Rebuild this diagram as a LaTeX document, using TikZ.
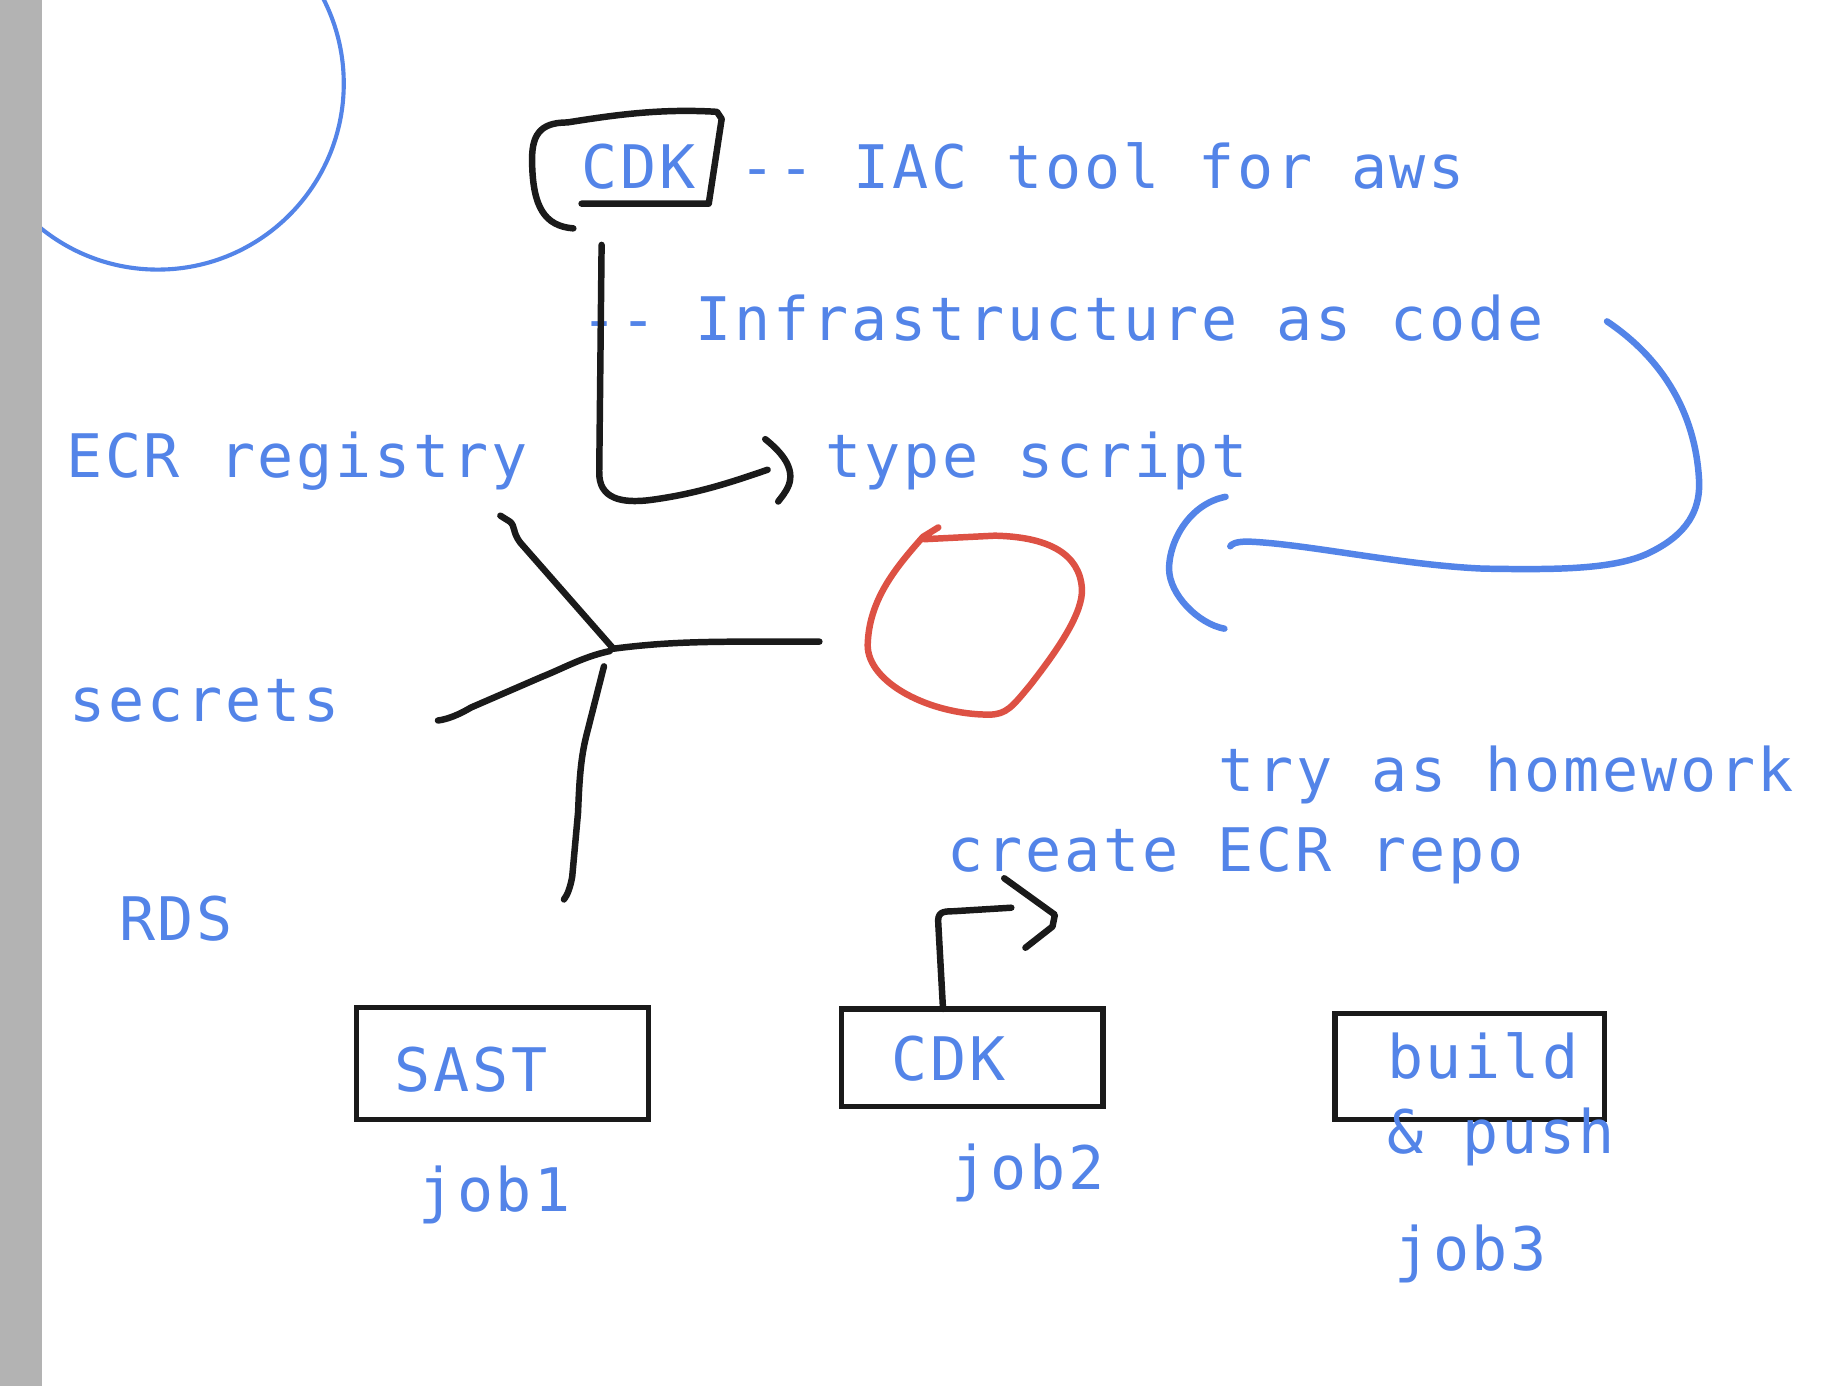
\documentclass[tikz,border=0pt]{standalone}
\usepackage{fontspec}
\newfontfamily\handfont{DejaVu Sans Mono}[LetterSpace=4.6]
\definecolor{inkblue}{HTML}{5384E8}
\definecolor{inkred}{HTML}{DD5144}
\definecolor{inkgray}{HTML}{B3B3B3}
\definecolor{ink}{HTML}{1A1A1A}
\tikzset{
  lbl/.style={font=\handfont\fontsize{51}{60}\selectfont, text=inkblue, inner sep=0pt, anchor=base west},
  pen/.style={draw=ink, line width=5.5pt, line cap=round, line join=round},
  redpen/.style={draw=inkred, line width=5.5pt, line cap=round, line join=round},
  bluepen/.style={draw=inkblue, line width=5.5pt, line cap=round, line join=round},
  jobbox/.style={draw=ink, line width=4.5pt, inner sep=0pt, rectangle}
}
\begin{document}
\begin{tikzpicture}[x=1pt, y=-1pt]
\path[use as bounding box, fill=white] (0,0) rectangle (1568,1177);
% blue circle top-left
\begin{scope}
\clip (0,0) rectangle (1568,1177);
\draw[inkblue, line width=3.5pt] (134,71) circle[radius=158pt];
\end{scope}
\fill[inkgray] (0,0) rectangle (36,1177);

% texts
\node[lbl] (cdktop) at (494,160) {CDK};
\node[lbl] (iac) at (628,160) {-{}- IAC tool for aws};
\node[lbl] (infra) at (494,289) {-{}- Infrastructure as code};
\node[lbl] (ecr) at (56,406) {ECR registry};
\node[lbl] (ts) at (701,406) {type script};
\node[lbl] (secrets) at (59,613) {secrets};
\node[lbl] (rds) at (101,799) {RDS};
\node[lbl] (try) at (1035,672) {try as homework};
\node[lbl] (create) at (805,740) {create ECR repo};

% job boxes
\node[jobbox, minimum width=248pt, minimum height=95pt] (sastbox) at (427,903.5) {};
\node[jobbox, minimum width=222pt, minimum height=83pt] (cdkbox) at (826,898.5) {};
\node[jobbox, minimum width=229pt, minimum height=90pt] (buildbox) at (1248.5,906) {};
\node[lbl] (sast) at (335,927) {SAST};
\node[lbl] (cdkjob) at (757,918) {CDK};
\node[lbl] (build) at (1178,916) {build};
\node[lbl] (push) at (1178,980) {\& push};
\node[lbl] (job1) at (355,1029) {job1};
\node[lbl] (job2) at (808,1010) {job2};
\node[lbl] (job3) at (1184,1079) {job3};

% CDK hand-drawn box
\draw[pen] (487,194) .. controls (462,192) and (453,175) .. (452,140)
  .. controls (451,115) and (458,104) .. (482,104)
  .. controls (520,98) and (560,92) .. (609,95) -- (613,101) -- (602,173) -- (494,173);

% L arrow to type script
\coordinate (lstart) at (511,208);
\coordinate (lend) at (652,399);
\draw[pen] (lstart) -- (509,400) .. controls (508,425) and (530,427) .. (550,425) .. controls (590,420) and (620,410) .. (lend);
\draw[pen] (650,373) .. controls (665,385) and (675,398) .. (670,412) .. controls (667,419) and (664,422) .. (661,426);

% junction
\coordinate (hub) at (521,551);
\draw[pen] (425,438) -- (433,443) .. controls (438,447) and (435,452) .. (442,461) -- (hub);
\draw[pen] (hub) .. controls (560,546) and (590,545) .. (640,545) -- (696,545);
\draw[pen] (518,553) .. controls (495,558) and (480,567) .. (460,575) -- (400,601) .. controls (390,607) and (380,611) .. (372,612);
\draw[pen] (513,566) -- (498,625) .. controls (493,645) and (492,665) .. (491,690) -- (486,745) .. controls (484,755) and (482,760) .. (479,764);

% red loop
\draw[redpen] (797,448) -- (784,456) .. controls (760,483) and (738,510) .. (737,548)
  .. controls (737,580) and (790,607) .. (840,607)
  .. controls (855,607) and (860,600) .. (875,582)
  .. controls (900,550) and (920,520) .. (919,500)
  .. controls (917,470) and (890,456) .. (845,455)
  -- (785,458);

% blue curves
\draw[bluepen] (1365,273) .. controls (1420,310) and (1440,360) .. (1443,405)
  .. controls (1446,440) and (1425,458) .. (1400,470)
  .. controls (1370,484) and (1320,484) .. (1260,483)
  .. controls (1190,480) and (1110,462) .. (1060,460)
  .. controls (1050,460) and (1046,462) .. (1045,464);
\draw[bluepen] (1041,422) .. controls (1010,428) and (993,460) .. (993,483)
  .. controls (993,505) and (1018,530) .. (1040,534);

% job2 arrow
\coordinate (a2start) at (801,857);
\draw[pen] (a2start) -- (797,785) .. controls (796,775) and (800,774) .. (810,774) -- (859,771);
\draw[pen] (853,746) -- (896,777) -- (894,787) -- (871,805);
\end{tikzpicture}
\end{document}
